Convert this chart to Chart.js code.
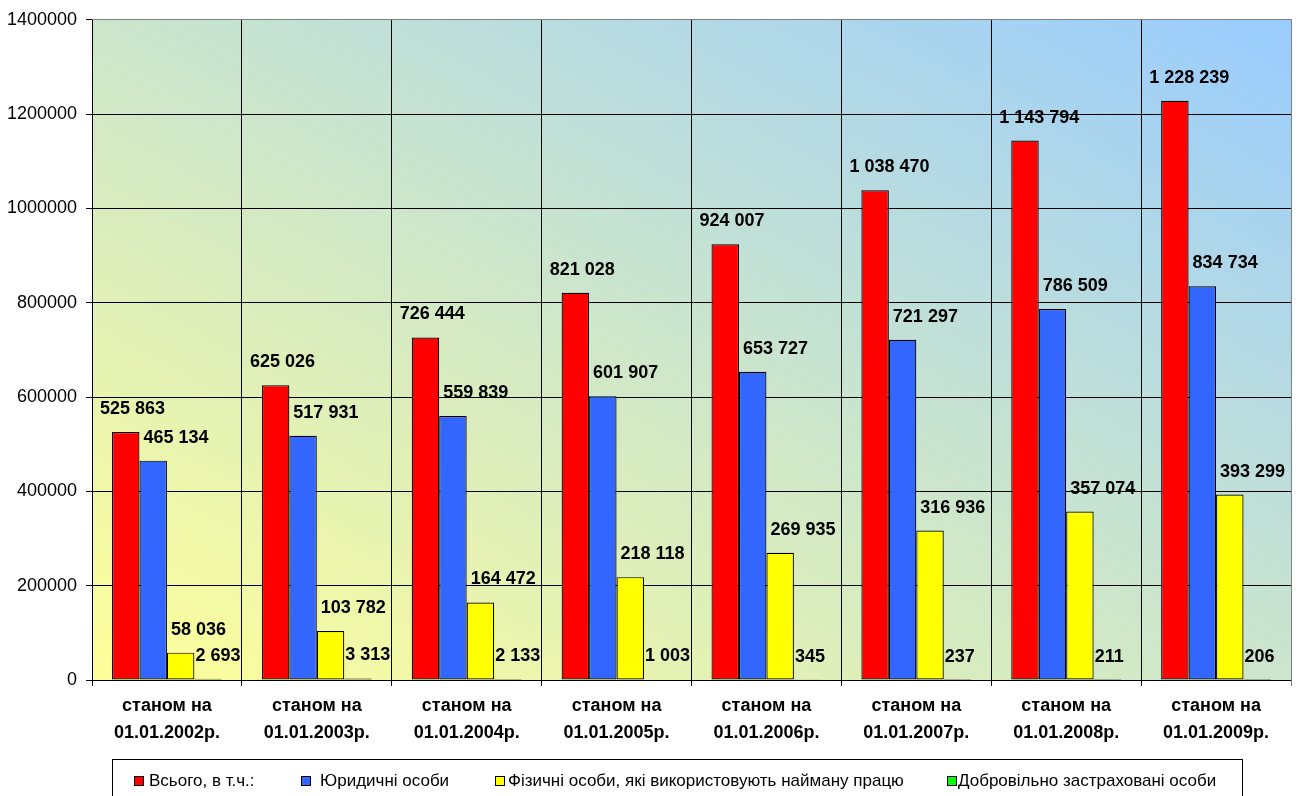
<!DOCTYPE html>
<html><head><meta charset="utf-8">
<script src="https://cdn.jsdelivr.net/npm/chart.js@4"></script>
<style>html,body{margin:0;padding:0;background:#fff}#wrap{width:1301px;height:796px;position:relative}</style>
</head><body><div id="wrap"><canvas id="c" width="1301" height="796"></canvas></div>
<script>
const categories = [
  ["станом на", "01.01.2002р."], ["станом на", "01.01.2003р."], ["станом на", "01.01.2004р."], ["станом на", "01.01.2005р."],
  ["станом на", "01.01.2006р."], ["станом на", "01.01.2007р."], ["станом на", "01.01.2008р."], ["станом на", "01.01.2009р."]
];
const seriesNames = ["Всього, в т.ч.:", "Юридичні особи", "Фізичні особи, які використовують найману працю", "Добровільно застраховані особи"];
const totalValues = [525863, 625026, 726444, 821028, 924007, 1038470, 1143794, 1228239];
const legalValues = [465134, 517931, 559839, 601907, 653727, 721297, 786509, 834734];
const individualValues = [58036, 103782, 164472, 218118, 269935, 316936, 357074, 393299];
const voluntaryValues = [2693, 3313, 2133, 1003, 345, 237, 211, 206];
const yTickValues = [0, 200000, 400000, 600000, 800000, 1000000, 1200000, 1400000];

const colors = ["#FF0000", "#3366FF", "#FFFF00", "#00FF00"];
const labelXOffset = [-12, 4, 4, 1];
const legendBoxX = [134, 301, 495, 947];
const legendTextGap = [5, 9, 3, 1];
const FONT = '"Liberation Sans", Arial, sans-serif';

function fmt(v) { return String(v).replace(/\B(?=(\d{3})+(?!\d))/g, " "); }
function align(p) { return Math.round(p - 0.5) + 0.5; }

const bgPlugin = {
  id: 'bg',
  beforeDraw(chart) {
    const a = chart.chartArea, ctx = chart.ctx;
    ctx.save();
    ctx.translate(a.left, a.top);
    ctx.scale(a.right - a.left, a.bottom - a.top);
    const g = ctx.createLinearGradient(0, 1, 1, 0);
    g.addColorStop(0, '#FFFF99');
    g.addColorStop(1, '#99CCFF');
    ctx.fillStyle = g;
    ctx.fillRect(0, 0, 1, 1);
    ctx.restore();
  }
};

const labelPlugin = {
  id: 'labels',
  afterDatasetsDraw(chart) {
    const ctx = chart.ctx;
    ctx.save();
    ctx.font = 'bold 18px ' + FONT;
    ctx.fillStyle = '#000';
    ctx.textAlign = 'left';
    ctx.textBaseline = 'middle';
    chart.data.datasets.forEach((ds, di) => {
      const meta = chart.getDatasetMeta(di);
      meta.data.forEach((el, i) => {
        const x = el.x - el.width / 2 + labelXOffset[di];
        ctx.fillText(fmt(ds.data[i]), x, el.y - 23);
      });
    });
    ctx.restore();
  },
  afterDraw(chart) {
    const a = chart.chartArea, ctx = chart.ctx;
    ctx.save();
    ctx.strokeStyle = '#808080';
    ctx.lineWidth = 1;
    ctx.beginPath();
    ctx.moveTo(a.left, align(a.top));
    ctx.lineTo(align(a.right), align(a.top));
    ctx.lineTo(align(a.right), a.bottom + 6);
    ctx.stroke();
    // legend
    ctx.strokeStyle = '#000';
    ctx.strokeRect(112.5, 759.5, 1130, 60);
    ctx.font = '17px ' + FONT;
    ctx.textBaseline = 'middle';
    ctx.textAlign = 'left';
    const cy = 781;
    seriesNames.forEach((name, i) => {
      const bx = legendBoxX[i];
      ctx.fillStyle = colors[i];
      ctx.fillRect(bx, cy - 5, 10, 10);
      ctx.strokeStyle = '#000';
      ctx.strokeRect(bx + 0.5, cy - 4.5, 9, 9);
      ctx.fillStyle = '#000';
      ctx.fillText(name, bx + 10 + legendTextGap[i], cy);
    });
    ctx.restore();
  }
};

const seriesValues = [totalValues, legalValues, individualValues, voluntaryValues];

new Chart(document.getElementById('c'), {
  type: 'bar',
  data: {
    labels: categories,
    datasets: seriesNames.map((n, i) => ({
      label: n,
      data: seriesValues[i],
      backgroundColor: colors[i],
      borderColor: '#000',
      borderWidth: 1.2,
      borderSkipped: false,
      barPercentage: 1.0,
      categoryPercentage: 0.733
    }))
  },
  options: {
    responsive: false,
    animation: false,
    devicePixelRatio: 1,
    layout: { padding: { top: 19, right: 10, bottom: 0, left: 0 } },
    plugins: { legend: { display: false }, tooltip: { enabled: false } },
    scales: {
      x: {
        grid: { color: '#000', lineWidth: 1, offset: true, tickLength: 6, drawTicks: true },
        border: { color: '#000', width: 1 },
        ticks: { color: '#000', font: { family: FONT, size: 18, weight: 'bold', lineHeight: 1.5 }, padding: 7, maxRotation: 0, autoSkip: false },
        afterFit(s) { s.height = 116; }
      },
      y: {
        min: 0, max: 1400000,
        grid: { color: '#000', lineWidth: 1, tickLength: 6, drawTicks: true },
        border: { color: '#000', width: 1 },
        ticks: { color: '#000', font: { family: FONT, size: 18 }, padding: 9, callback: v => String(v) },
        afterBuildTicks(s) { s.ticks = yTickValues.map(v => ({ value: v })); },
        afterFit(s) { s.width = 92; }
      }
    }
  },
  plugins: [bgPlugin, labelPlugin]
});
</script>
</body></html>
